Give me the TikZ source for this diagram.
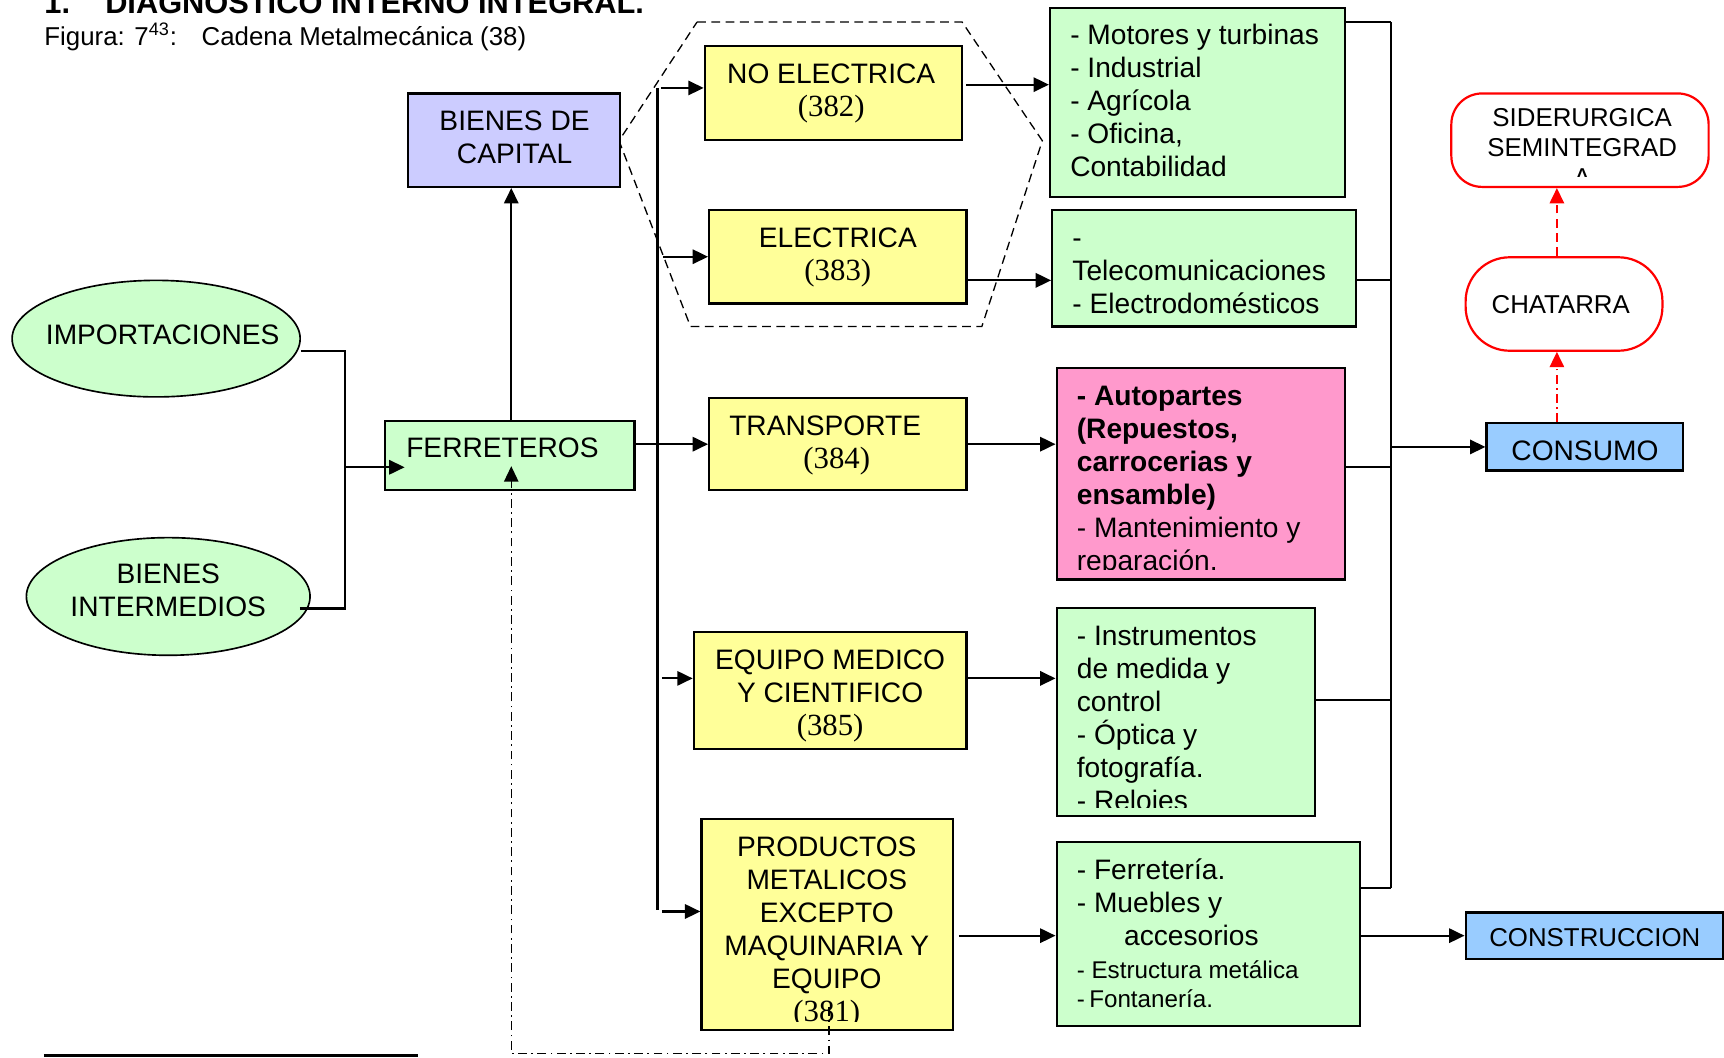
\documentclass[tikz,border=0pt]{standalone}
\usepackage{fontspec}
\setmainfont{Liberation Sans}
\newfontfamily\codefont{Liberation Serif}
\usetikzlibrary{arrows.meta,calc,fit,shapes.geometric}

\definecolor{lilac}{HTML}{CCCCFF}
\definecolor{mint}{HTML}{CCFFCC}
\definecolor{lemon}{HTML}{FFFF99}
\definecolor{rose}{HTML}{FF99CC}
\definecolor{sky}{HTML}{99CCFF}

\newcommand\bigtext{\fontsize{12.8pt}{15pt}\selectfont}
\newcommand\midtext{\fontsize{11.75pt}{13.5pt}\selectfont}
\newcommand\lowtext{\fontsize{11pt}{13.5pt}\selectfont}
\newcommand\ciiu[1]{{\codefont\fontsize{14pt}{15pt}\selectfont #1}}

\tikzset{
  box/.style={draw, line width=1pt, inner sep=0pt},
  oval/.style={ellipse, draw, line width=0.75pt, fill=mint, inner sep=0pt},
  pill/.style={draw=red, line width=1pt, fill=white, inner sep=0pt},
  words/.style={inner sep=0pt, font=\bigtext},
  conn/.style={line width=1pt},
  arrowed/.style={-{Triangle[length=7pt,width=6.5pt]}},
  hexline/.style={line width=0.6pt, dash pattern=on 4pt off 2.5pt},
  backline/.style={line width=0.6pt, dash pattern=on 4pt off 2pt on 0.8pt off 2pt},
  redarrow/.style={red, line width=1pt, -{Triangle[length=7pt,width=6.5pt]}},
}

\begin{document}
\begin{tikzpicture}[x=0.5pt,y=-0.5pt]
\useasboundingbox (0,0) rectangle (1568,962);

% headings
\node[anchor=base west, inner sep=0pt, font=\bfseries\fontsize{14pt}{16pt}\selectfont] (title) at (40,12) {1.\hspace{16pt}DIAGNOSTICO INTERNO INTEGRAL.};
\node[anchor=base west, inner sep=0pt, font=\midtext] (fignum) at (40,41) {Figura: 7\textsuperscript{43}:};
\node[anchor=base west, inner sep=0pt, font=\midtext] (figcap) at (183,41) {Cadena Metalmecánica (38)};

% dashed hexagon grouping the machinery branches
\draw[hexline] (634,20) -- (875,20) -- (948,128) -- (893,297) -- (628,297) -- (563,128) -- cycle;

% boxes
\node[box, fill=lilac, fit={(371,85) (564,170)}] (bcap) {};
\node[oval, minimum width=131pt, minimum height=53pt] (imp) at (142,308) {};
\node[oval, minimum width=129pt, minimum height=53.5pt] (bint) at (153,542.5) {};
\node[box, fill=mint, fit={(350,383) (577,446)}] (ferr) {};
\node[box, fill=lemon, fit={(641,42) (875,127)}] (noelec) {};
\node[box, fill=lemon, fit={(645,191) (879,276)}] (elec) {};
\node[box, fill=lemon, fit={(645,362) (879,446)}] (transp) {};
\node[box, fill=lemon, fit={(631,575) (879,681)}] (equipo) {};
\node[box, fill=lemon, fit={(638,745) (867,937)}] (prod) {};
\node[box, fill=mint, fit={(955,7) (1223,179)}] (motores) {};
\node[box, fill=mint, fit={(957,191) (1233,297)}] (telecom) {};
\node[box, fill=rose, fit={(961,335) (1223,527)}] (autop) {};
\node[box, fill=mint, fit={(961,553) (1196,742)}] (instr) {};
\node[box, fill=mint, fit={(961,766) (1237,933)}] (ferrt) {};
\node[box, fill=sky, fit={(1352,385) (1531,428)}] (consumo) {};
\node[box, fill=sky, fit={(1333,830) (1567,872)}] (constr) {};
\node[pill, rounded corners=20pt, fit={(1333,234) (1512,319)}] (chat) {};
\node[pill, rounded corners=14pt, fit={(1320,85) (1554,170)}] (sider) {};

% box texts
\node[words, anchor=north, align=center] (bcap-t) at (468,100.8) {BIENES DE\\CAPITAL};
\node[words, anchor=north] (imp-t) at (148,294.8) {IMPORTACIONES};
\node[words, anchor=north, align=center] (bint-t) at (153,512.8) {BIENES\\INTERMEDIOS};
\node[words, anchor=north] (ferr-t) at (457,397.8) {FERRETEROS};
\node[words, anchor=north, align=center] (noelec-t) at (756,57.8) {NO ELECTRICA\\\ciiu{(382)}};
\node[words, anchor=north, align=center] (elec-t) at (762,206.8) {ELECTRICA\\\ciiu{(383)}};
\node[words, anchor=north, align=center] (transp-t) at (750.5,377.8) {TRANSPORTE\\\hspace*{10.5pt}\ciiu{(384)}};
\node[words, anchor=north, align=center] (equipo-t) at (755,590.8) {EQUIPO MEDICO\\Y CIENTIFICO\\\ciiu{(385)}};
\begin{scope}
  \clip (prod.north west) rectangle ($(prod.south east)+(0,-9)$);
  \node[words, anchor=north, align=center] (prod-t) at (752,760.8) {PRODUCTOS\\METALICOS\\EXCEPTO\\MAQUINARIA Y\\EQUIPO\\\ciiu{(381)}};
\end{scope}
\node[words, anchor=north west, align=left] (motores-t) at (973,21.8) {- Motores y turbinas\\- Industrial\\- Agrícola\\- Oficina,\\Contabilidad};
\node[words, anchor=north west, align=left] (telecom-t) at (975,206.8) {\vphantom{X}-\\Telecomunicaciones\\- Electrodomésticos};
\begin{scope}
  \clip (autop.north west) rectangle ($(autop.south east)+(0,-10)$);
  \node[words, anchor=north west, align=left] (autop-t) at (979,350.8) {\textbf{- Autopartes}\\\textbf{(Repuestos,}\\\textbf{carrocerias y}\\\textbf{ensamble)}\\- Mantenimiento y\\reparación.};
\end{scope}
\begin{scope}
  \clip (instr.north west) rectangle ($(instr.south east)+(0,-9)$);
  \node[words, anchor=north west, align=left] (instr-t) at (979,568.8) {- Instrumentos\\de medida y\\control\\- Óptica y\\fotografía.\\- Relojes};
\end{scope}
\node[words, anchor=north west, align=left] (ferrt-t) at (979,780.8) {- Ferretería.\\- Muebles y\\\hspace*{21.5pt}accesorios};
\node[words, anchor=north west, align=left, font=\lowtext] (ferrt-s) at (979,873) {- Estructura metálica\\-\hspace{2pt}Fontanería.};
\node[words, anchor=north] (consumo-t) at (1441.5,400.8) {CONSUMO};
\node[words, anchor=north, font=\midtext] (constr-t) at (1450.5,843.6) {CONSTRUCCION};
\node[words, anchor=north, font=\midtext] (chat-t) at (1419.5,268.6) {CHATARRA};
\begin{scope}
  \clip (sider.north west) rectangle ($(sider.south east)+(0,-10.5)$);
  \node[words, anchor=north, align=center, font=\midtext] (sider-t) at (1439,98.6) {SIDERURGICA\\SEMINTEGRAD\\A};
\end{scope}

% inputs to the hardware dealers
\coordinate (join) at (314,425);
\draw[conn] ($(imp.east)+(0,11)$) -| (join);
\draw[conn] ($(bint.east)+(-10,11)$) -| (join);
\draw[conn, arrowed] (join) -- ($(ferr.west)+(19,10.5)$);
\draw[conn, arrowed] ($(ferr.north)+(1.5,0)$) -- ($(bcap.south)+(-2.5,0)$);
\draw[conn, arrowed] (ferr.east |- transp.west) -- (transp.west);

% return flow from metal products
\draw[backline, arrowed] ($(prod.south)+(1.5,-22)$) -- ++(0,42) -| ($(ferr.south)+(1.5,-23)$);

% left distribution bus
\coordinate (bustop) at (598,80);
\coordinate (busbot) at (598,828);
\draw[conn] (bustop) -- (busbot);
\draw[conn, arrowed] ($(bustop)+(3,0)$) -- (bustop -| noelec.west);
\coordinate (busx) at (603,0);
\draw[conn, arrowed] (busx |- elec.west) -- (elec.west);
\draw[conn, arrowed] ($(equipo.west)+(-28,-11)$) -- ($(equipo.west)+(0,-11)$);
\draw[conn, arrowed] ($(prod.west)+(-35,-12)$) -- ($(prod.west)+(0,-12)$);

% branches to product groups
\coordinate (a1) at ($(noelec.east)+(3,-7.5)$);
\draw[conn, arrowed] (a1) -- (a1 -| motores.west);
\coordinate (a2) at ($(elec.east)+(0,21.5)$);
\draw[conn, arrowed] (a2) -- (a2 -| telecom.west);
\draw[conn, arrowed] (transp.east) -- (transp.east -| autop.west);
\coordinate (a4) at ($(equipo.east)+(0,-11)$);
\draw[conn, arrowed] (a4) -- (a4 -| instr.west);
\coordinate (a5) at ($(prod.east)+(4,10)$);
\draw[conn, arrowed] (a5) -- (a5 -| ferrt.west);

% right collecting bus
\coordinate (rtop) at (1265,20);
\coordinate (rbot) at (1265,808);
\draw[conn] (rtop) -- (rbot);
\draw[conn] (motores.east |- rtop) -- (rtop);
\coordinate (b2) at ($(telecom.east)+(0,11)$);
\draw[conn] (b2) -- (b2 -| rtop);
\coordinate (b3) at ($(autop.east)+(0,-6)$);
\draw[conn] (b3) -- (b3 -| rtop);
\coordinate (b4) at ($(instr.east)+(0,-10.5)$);
\draw[conn] (b4) -- (b4 -| rtop);
\draw[conn] (ferrt.east |- rbot) -- (rbot);
\draw[conn, arrowed] (rtop |- consumo.west) -- (consumo.west);
\draw[conn, arrowed] (ferrt.east |- constr.west) -- (constr.west);

% scrap recycling loop
\coordinate (c1) at ($(consumo.north)+(-25.5,0)$);
\draw[redarrow, dash pattern=on 4pt off 2pt on 0.8pt off 2pt] (c1) -- (c1 |- chat.south);
\coordinate (c2) at ($(chat.north)+(-6.5,0)$);
\draw[redarrow, dash pattern=on 4pt off 2.5pt] (c2) -- (c2 |- sider.south);

% footnote rule
\coordinate (fnl) at (40,960);
\coordinate (fnr) at (380,960);
\draw[line width=1pt] (fnl) -- (fnr);
\end{tikzpicture}
\end{document}
